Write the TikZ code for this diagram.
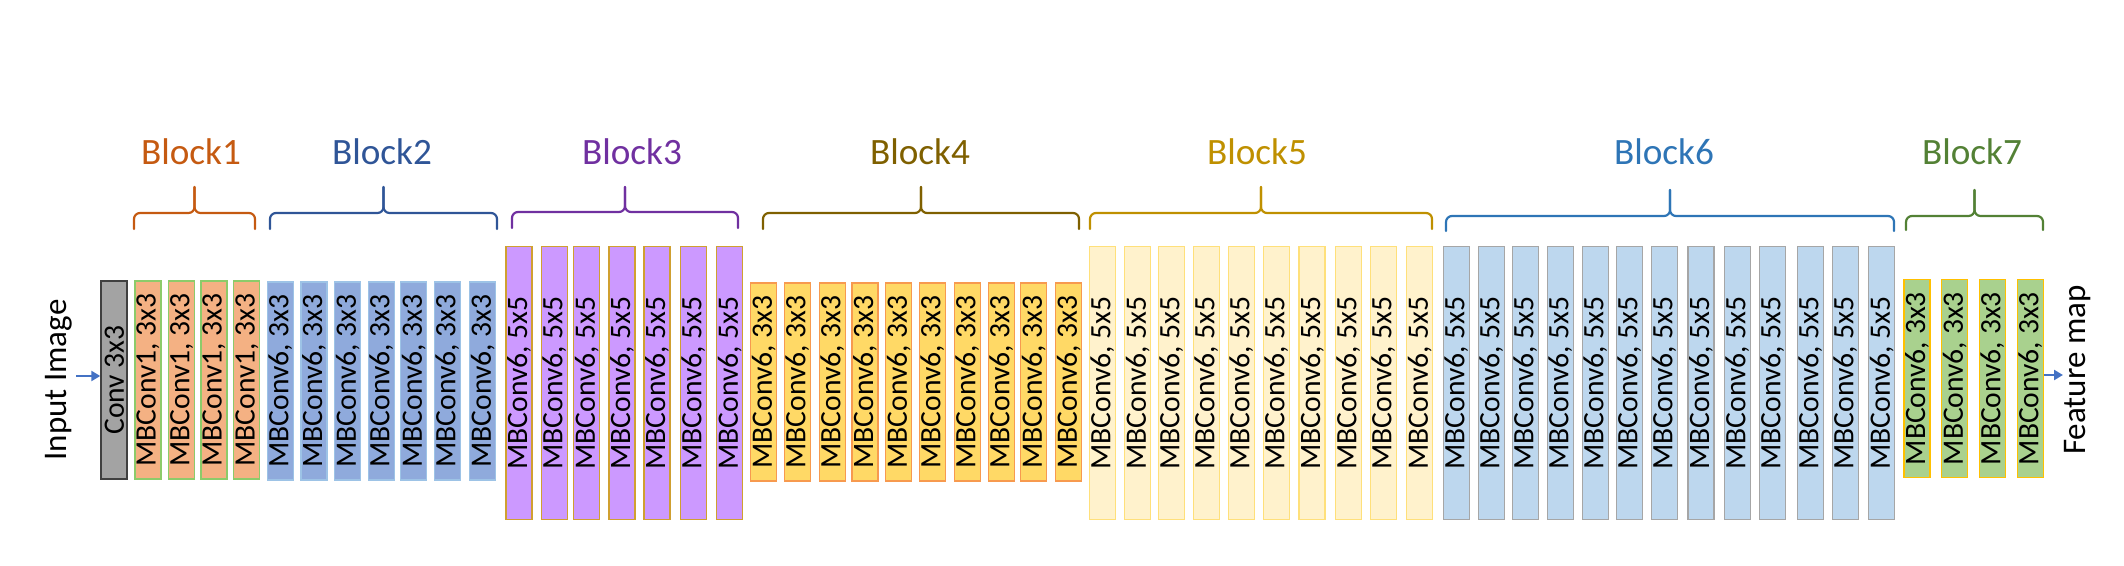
\documentclass[tikz,border=0pt]{standalone}
\usepackage{fontspec}
\setmainfont{Carlito}
\usetikzlibrary{arrows.meta}
\definecolor{convfill}{HTML}{A3A3A3}
\definecolor{convedge}{HTML}{404040}
\definecolor{bAfill}{HTML}{F4B183}
\definecolor{bAedge}{HTML}{8CCB6A}
\definecolor{bBfill}{HTML}{8FAADC}
\definecolor{bBedge}{HTML}{9DC3E6}
\definecolor{bCfill}{HTML}{CC99FF}
\definecolor{bCedge}{HTML}{D0A030}
\definecolor{bDfill}{HTML}{FFD966}
\definecolor{bDedge}{HTML}{F79A4F}
\definecolor{bEfill}{HTML}{FFF2CC}
\definecolor{bEedge}{HTML}{FFE07A}
\definecolor{bFfill}{HTML}{BDD7EE}
\definecolor{bFedge}{HTML}{A6A6A6}
\definecolor{bGfill}{HTML}{A9D18E}
\definecolor{bGedge}{HTML}{FFC000}
\definecolor{cA}{HTML}{C55A11}
\definecolor{cB}{HTML}{2F5597}
\definecolor{cC}{HTML}{7030A0}
\definecolor{cD}{HTML}{7F6000}
\definecolor{cE}{HTML}{BF9000}
\definecolor{cF}{HTML}{2E75B6}
\definecolor{cG}{HTML}{538135}
\definecolor{arrowblue}{HTML}{4472C4}
\begin{document}
\begin{tikzpicture}[x=0.5pt,y=-0.5pt,
  cell/.style={draw, line width=0.6pt, inner sep=0pt, minimum width=13pt,
    font=\fontsize{14.8}{16}\selectfont, text=black},
  short/.style={minimum height=99pt},
  tall/.style={minimum height=136.3pt},
  brc/.style={line width=1.1pt, rounded corners=3pt, line cap=round},
  lbl/.style={font=\fontsize{18.6}{20}\selectfont, anchor=base, inner sep=0pt},
  side/.style={font=\fontsize{16.5}{18}\selectfont, rotate=90, inner sep=0pt},
  arr/.style={-{Triangle[length=4.5pt,width=5pt]}, line width=1.3pt, draw=arrowblue}]
\useasboundingbox (0,0) rectangle (2124,566);

% side labels
\node[side] (inimg) at (58.5,380) {Input Image};
\node[side] (fmap) at (2077.5,370) {Feature map};

% stem
\node[cell, short, fill=convfill, draw=convedge, line width=1pt] (conv) at (114.3,380) {\rotatebox{90}{Conv 3x3}};

% Block1
\foreach \x [count=\i] in {135,168.7,201,233.8}
  \node[cell, short, fill=bAfill, draw=bAedge] (bA-\i) at (\x+13,380) {\rotatebox{90}{MBConv1, 3x3}};
% Block2
\foreach \x [count=\i] in {267.3,301,334.7,368.3,400.7,434.3,469.7}
  \node[cell, short, fill=bBfill, draw=bBedge] (bB-\i) at (\x+13,381) {\rotatebox{90}{MBConv6, 3x3}};
% Block3
\foreach \x [count=\i] in {506,541.3,573.7,609,644,680.3,716.7}
  \node[cell, tall, fill=bCfill, draw=bCedge] (bC-\i) at (\x+13,383) {\rotatebox{90}{MBConv6, 5x5}};
% Block4
\foreach \x [count=\i] in {750.7,784.3,819.3,852,885.7,919.3,954.3,988.3,1020.7,1055.7}
  \node[cell, short, fill=bDfill, draw=bDedge] (bD-\i) at (\x+13,382) {\rotatebox{90}{MBConv6, 3x3}};
% Block5
\foreach \x [count=\i] in {1089.3,1124.7,1158.3,1193.3,1228.3,1263.3,1299,1335.3,1370.3,1406.7}
  \node[cell, tall, fill=bEfill, draw=bEedge] (bE-\i) at (\x+13,383) {\rotatebox{90}{MBConv6, 5x5}};
% Block6
\foreach \x [count=\i] in {1443.3,1478.3,1512.3,1547.3,1582.3,1616.3,1651.3,1688,1724.3,1759.3,1797.3,1832.3,1868.7}
  \node[cell, tall, fill=bFfill, draw=bFedge] (bF-\i) at (\x+13,383) {\rotatebox{90}{MBConv6, 5x5}};
% Block7
\foreach \x [count=\i] in {1904,1941.7,1979.3,2017.3}
  \node[cell, short, fill=bGfill, draw=bGedge] (bG-\i) at (\x+13,378.7) {\rotatebox{90}{MBConv6, 3x3}};

% braces
\foreach \a/\b/\t/\h/\e/\c in {134/255/187/213/229/cA, 270/497/187/213/229/cB,
    512/738/187/212/228/cC, 763/1079/187/213/229/cD, 1090/1432/187/213/229/cE,
    1446/1894/190/216/231/cF, 1906/2043/190/216/230/cG}
{
  \draw[brc, draw=\c] (\a,\e) -- (\a,\h) -- ({(\a+\b)/2},\h) -- ({(\a+\b)/2},\t);
  \draw[brc, draw=\c] (\b,\e) -- (\b,\h) -- ({(\a+\b)/2},\h) -- ({(\a+\b)/2},\t);
}

% block labels
\node[lbl, text=cA] (LA) at (191,165) {Block1};
\node[lbl, text=cB] (LB) at (382,165) {Block2};
\node[lbl, text=cC] (LC) at (632,165) {Block3};
\node[lbl, text=cD] (LD) at (920,165) {Block4};
\node[lbl, text=cE] (LE) at (1257,165) {Block5};
\node[lbl, text=cF] (LF) at (1664,165) {Block6};
\node[lbl, text=cG] (LG) at (1972,165) {Block7};

% arrows
\coordinate (inA) at (76,376);
\coordinate (outA) at (2063,375);
\draw[arr] (inA) -- (inA -| conv.west);
\draw[arr] (outA -| bG-4.east) -- (outA);
\end{tikzpicture}
\end{document}
